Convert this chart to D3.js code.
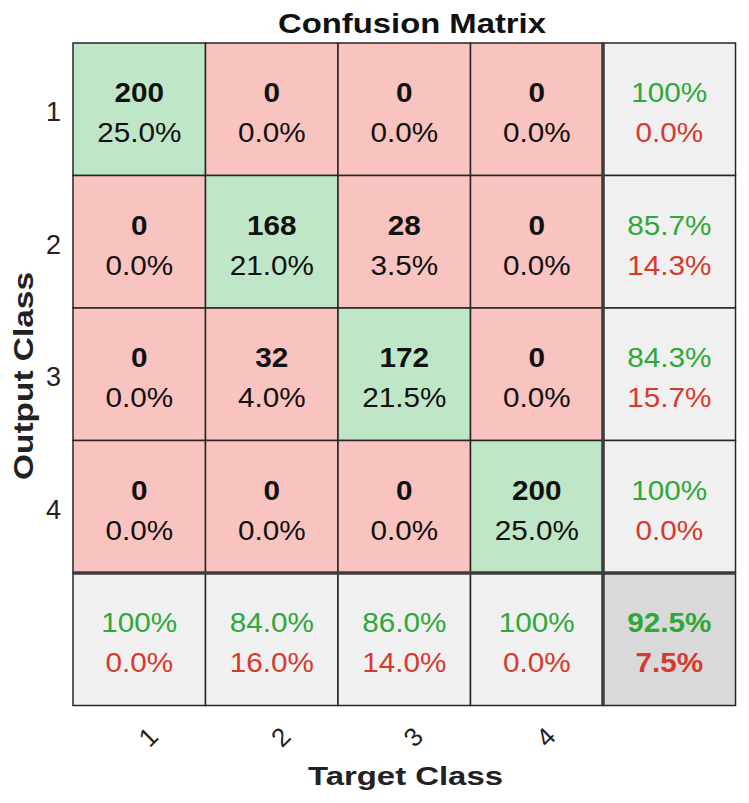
<!DOCTYPE html>
<html>
<head>
<meta charset="utf-8">
<script src="https://cdn.jsdelivr.net/npm/d3@7"></script>
<style>
  body { margin: 0; background: #fff; }
  text { font-family: "Liberation Sans", Arial, sans-serif; }
</style>
</head>
<body>
<svg id="chart"></svg>
<script>
// classes and counts (rows = output class, cols = target class)
var classes = ['1', '2', '3', '4'];
var counts = [
  [200, 0, 0, 0],
  [0, 168, 28, 0],
  [0, 32, 172, 0],
  [0, 0, 0, 200]
];
var total = 800;

var width = 749, height = 803;
var gridLeft = 73, gridTop = 43, cell = 132.5;

var green = '#bfe6c6', red = '#f9c3c0', grey = '#f0f0f0', darkGrey = '#d9d9d9';
var gText = '#2ea83a', rText = '#d63a2f';

var svg = d3.select('#chart')
    .attr('width', width)
    .attr('height', height);

var idx = d3.range(classes.length + 1);
var x = d3.scaleBand().domain(idx).range([gridLeft, gridLeft + cell * 5]);
var y = d3.scaleBand().domain(idx).range([gridTop, gridTop + cell * 5]);

function pct(v) {
  var p = v * 100;
  return p === 100 ? '100%' : p.toFixed(1) + '%';
}

// build cells
var cells = [];
counts.forEach(function(row, r) {
  row.forEach(function(v, c) {
    cells.push({r: r, c: c, type: r === c ? 'diag' : 'off', top: String(v), bottom: pct(v / total)});
  });
  var rowSum = d3.sum(row);
  cells.push({r: r, c: 4, type: 'sum', top: pct(row[r] / rowSum), bottom: pct(1 - row[r] / rowSum)});
});
classes.forEach(function(cl, c) {
  var colSum = d3.sum(counts, function(row) { return row[c]; });
  cells.push({r: 4, c: c, type: 'sum', top: pct(counts[c][c] / colSum), bottom: pct(1 - counts[c][c] / colSum)});
});
var correct = d3.sum(classes, function(cl, i) { return counts[i][i]; });
cells.push({r: 4, c: 4, type: 'all', top: pct(correct / total), bottom: pct(1 - correct / total)});

var fill = {diag: green, off: red, sum: grey, all: darkGrey};

var g = svg.selectAll('g.cell')
    .data(cells)
    .enter()
    .append('g')
    .attr('class', 'cell')
    .attr('transform', function(d) { return 'translate(' + x(d.c) + ',' + y(d.r) + ')'; });

g.append('rect')
    .attr('width', x.bandwidth())
    .attr('height', y.bandwidth())
    .attr('fill', function(d) { return fill[d.type]; })
    .attr('stroke', '#262626')
    .attr('stroke-width', 1.5);

// text is a bit wider than Arial in the original, stretch it slightly
var tg = g.append('g')
    .attr('transform', 'translate(' + (cell / 2) + ',0) scale(1.1,1)');

tg.append('text')
    .attr('y', cell / 2 - 7)
    .attr('text-anchor', 'middle')
    .style('font-size', '27px')
    .style('font-weight', function(d) { return d.type === 'sum' ? 'normal' : 'bold'; })
    .attr('fill', function(d) { return d.type === 'sum' || d.type === 'all' ? gText : '#111'; })
    .text(function(d) { return d.top; });

tg.append('text')
    .attr('y', cell / 2 + 33)
    .attr('text-anchor', 'middle')
    .style('font-size', '27px')
    .style('font-weight', function(d) { return d.type === 'all' ? 'bold' : 'normal'; })
    .attr('fill', function(d) { return d.type === 'sum' || d.type === 'all' ? rText : '#111'; })
    .text(function(d) { return d.bottom; });

// thick separators for summary row/column
svg.append('line')
    .attr('x1', x(4)).attr('x2', x(4))
    .attr('y1', y(0)).attr('y2', y(4) + cell)
    .attr('stroke', '#3c3c3c').attr('stroke-width', 3.5);
svg.append('line')
    .attr('x1', x(0)).attr('x2', x(4) + cell)
    .attr('y1', y(4)).attr('y2', y(4))
    .attr('stroke', '#3c3c3c').attr('stroke-width', 3.5);

// title
svg.append('text')
    .attr('x', 412)
    .attr('y', 33)
    .attr('text-anchor', 'middle')
    .attr('textLength', 268)
    .attr('lengthAdjust', 'spacingAndGlyphs')
    .style('font-size', '28px')
    .style('font-weight', 'bold')
    .attr('fill', '#111')
    .text('Confusion Matrix');

// y tick labels
svg.selectAll('text.ytick')
    .data(classes)
    .enter()
    .append('text')
    .attr('class', 'ytick')
    .attr('x', 61)
    .attr('y', function(d, i) { return y(i) + cell / 2 + 12; })
    .attr('text-anchor', 'end')
    .style('font-size', '27px')
    .attr('fill', '#222')
    .text(function(d) { return d; });

// x tick labels (rotated)
svg.selectAll('text.xtick')
    .data(classes)
    .enter()
    .append('text')
    .attr('class', 'xtick')
    .attr('transform', function(d, i) {
      return 'translate(' + (x(i) + cell / 2 + 9) + ',737) rotate(-45)';
    })
    .attr('text-anchor', 'middle')
    .attr('dy', '0.35em')
    .style('font-size', '26px')
    .attr('fill', '#222')
    .text(function(d) { return d; });

// axis titles
svg.append('text')
    .attr('x', 405.5)
    .attr('y', 785)
    .attr('text-anchor', 'middle')
    .attr('textLength', 195)
    .attr('lengthAdjust', 'spacingAndGlyphs')
    .style('font-size', '26px')
    .style('font-weight', 'bold')
    .attr('fill', '#222')
    .text('Target Class');

svg.append('text')
    .attr('transform', 'translate(33,376) rotate(-90)')
    .attr('text-anchor', 'middle')
    .attr('textLength', 208)
    .attr('lengthAdjust', 'spacingAndGlyphs')
    .style('font-size', '27px')
    .style('font-weight', 'bold')
    .attr('fill', '#222')
    .text('Output Class');
</script>
</body>
</html>
